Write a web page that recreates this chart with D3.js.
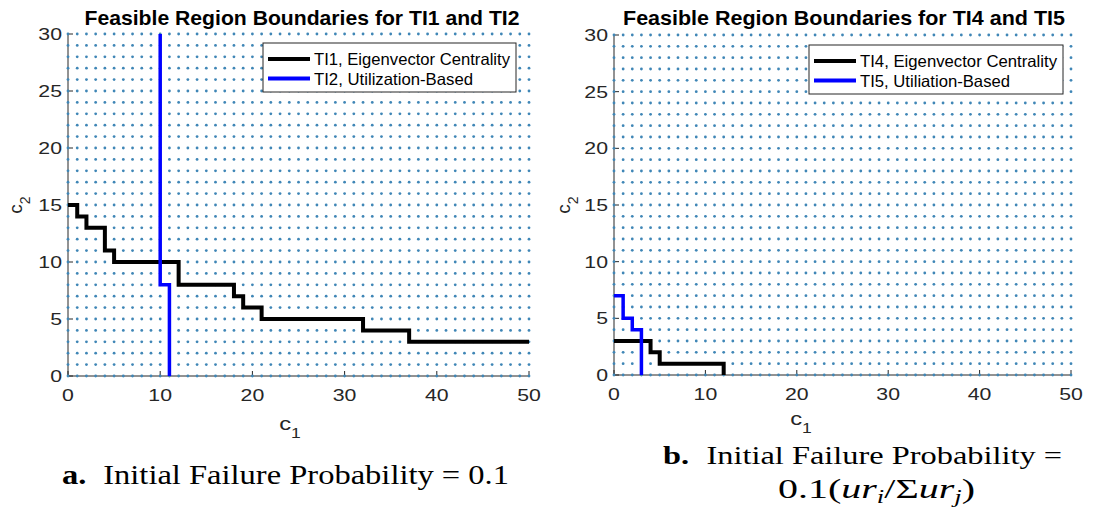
<!DOCTYPE html>
<html>
<head>
<meta charset="utf-8">
<script src="https://cdn.jsdelivr.net/npm/d3@7"></script>
<style>
  html, body { margin: 0; padding: 0; background: #fff; }
  svg { display: block; }
</style>
</head>
<body>
<svg id="chart" width="1096" height="516"></svg>
<script>
// ---------- data ----------
const gridC1 = d3.range(0, 51);          // feasible integer grid, c1
const gridC2 = d3.range(0, 31);          // feasible integer grid, c2
const xTicks = [0, 10, 20, 30, 40, 50];
const yTicks = [0, 5, 10, 15, 20, 25, 30];

// Panel a: boundary vertices (data units)
const ti1C1 = [0, 1, 1, 2, 2, 4, 4, 5, 5, 12, 12, 18, 18, 19, 19, 21, 21, 32, 32, 37, 37, 50];
const ti1C2 = [15, 15, 14, 14, 13, 13, 11, 11, 10, 10, 8, 8, 7, 7, 6, 6, 5, 5, 4, 4, 3, 3];
const ti2C1 = [10, 10, 11, 11];
const ti2C2 = [30, 8, 8, 0];

// Panel b
const ti4C1 = [0, 4, 4, 5, 5, 12, 12];
const ti4C2 = [3, 3, 2, 2, 1, 1, 0];
const ti5C1 = [0, 1, 1, 2, 2, 3, 3];
const ti5C2 = [7, 7, 5, 5, 4, 4, 0];

const titles = ["Feasible Region Boundaries for TI1 and TI2", "Feasible Region Boundaries for TI4 and TI5"];
const legendA = ["TI1, Eigenvector Centrality", "TI2, Utilization-Based"];
const legendB = ["TI4, Eigenvector Centrality", "TI5, Utiliation-Based"];

// ---------- drawing ----------
const svg = d3.select("#chart");
const SANS = "'Liberation Sans', Arial, sans-serif";
const SERIF = "'Liberation Serif', 'Times New Roman', serif";
const STRETCH = 1.25;

function stretch(sel, target) {
  sel.each(function () {
    const w = target || this.getComputedTextLength() * STRETCH;
    d3.select(this).attr("textLength", w).attr("lengthAdjust", "spacingAndGlyphs");
  });
}

function panel(cfg) {
  const x = d3.scaleLinear().domain([0, 50]).range([cfg.x0, cfg.x1]);
  const y = d3.scaleLinear().domain([0, 30]).range([cfg.y0, cfg.y1]);
  const g = svg.append("g");

  // axes lines
  g.append("line").attr("x1", x(0)).attr("x2", x(50)).attr("y1", y(0)).attr("y2", y(0))
    .attr("stroke", "#262626").attr("stroke-width", 1);
  g.append("line").attr("x1", x(0)).attr("x2", x(0)).attr("y1", y(0)).attr("y2", y(30))
    .attr("stroke", "#262626").attr("stroke-width", 1);
  // ticks (inside)
  g.selectAll(".xt").data(xTicks).join("line")
    .attr("x1", d => x(d)).attr("x2", d => x(d)).attr("y1", y(0)).attr("y2", y(0) - 5)
    .attr("stroke", "#262626");
  g.selectAll(".yt").data(yTicks).join("line")
    .attr("x1", x(0)).attr("x2", x(0) + 5).attr("y1", d => y(d)).attr("y2", d => y(d))
    .attr("stroke", "#262626");

  // tick labels
  const xl = g.selectAll(".xl").data(xTicks).join("text")
    .attr("x", d => x(d)).attr("y", y(0) + 25)
    .attr("text-anchor", "middle").attr("font-family", SANS).attr("font-size", 17)
    .attr("fill", "#262626").text(d => d);
  stretch(xl);
  const yl = g.selectAll(".yl").data(yTicks).join("text")
    .attr("x", x(0) - 6).attr("y", d => y(d) + 6)
    .attr("text-anchor", "end").attr("font-family", SANS).attr("font-size", 17)
    .attr("fill", "#262626").text(d => d);
  stretch(yl);

  // dot grid
  const pts = [];
  gridC1.forEach(a => gridC2.forEach(b => pts.push([a, b])));
  g.append("g").selectAll("circle").data(pts).join("circle")
    .attr("cx", d => x(d[0])).attr("cy", d => y(d[1])).attr("r", 1.4)
    .attr("fill", "#3f86b6");

  // boundary lines
  const line = d3.line().x(d => x(d[0])).y(d => y(d[1]));
  g.append("path").datum(d3.zip(cfg.aC1, cfg.aC2)).attr("d", line)
    .attr("fill", "none").attr("stroke", "#000").attr("stroke-width", 4);
  g.append("path").datum(d3.zip(cfg.bC1, cfg.bC2)).attr("d", line)
    .attr("fill", "none").attr("stroke", "#0000ff").attr("stroke-width", 3.5);

  // title
  const t = g.append("text").attr("x", cfg.titleX).attr("y", 25).attr("text-anchor", "middle")
    .attr("font-family", SANS).attr("font-weight", "bold").attr("font-size", 20.5)
    .attr("fill", "#000").text(cfg.title);
  stretch(t, cfg.titleW);

  // x label c1
  const xlab = g.append("text").attr("x", cfg.c1X).attr("y", cfg.c1Y).attr("text-anchor", "middle")
    .attr("font-family", SANS).attr("font-size", 19).attr("fill", "#262626");
  xlab.append("tspan").text("c");
  xlab.append("tspan").attr("font-size", 14).attr("dy", 8).text("1");
  stretch(xlab);

  // y label c2 (rotated)
  const ylab = g.append("text").attr("transform", `translate(${cfg.c2X},${(cfg.y0 + cfg.y1) / 2}) rotate(-90)`)
    .attr("text-anchor", "middle").attr("font-family", SANS).attr("font-size", 19).attr("fill", "#262626");
  ylab.append("tspan").text("c");
  ylab.append("tspan").attr("font-size", 14).attr("dy", 8).text("2");

  // legend
  const L = cfg.legend;
  g.append("rect").attr("x", L.x).attr("y", L.y).attr("width", L.w).attr("height", L.h)
    .attr("fill", "#fff").attr("stroke", "#262626").attr("stroke-width", 1);
  const cols = ["#000", "#0000ff"];
  cfg.legendText.forEach((s, i) => {
    const ly = L.y + 16 + i * 19.5;
    g.append("line").attr("x1", L.x + 5).attr("x2", L.x + 47).attr("y1", ly).attr("y2", ly)
      .attr("stroke", cols[i]).attr("stroke-width", 4);
    const tt = g.append("text").attr("x", L.x + 51).attr("y", ly + 6)
      .attr("font-family", SANS).attr("font-size", 16.5).attr("fill", "#000").text(s);
    stretch(tt, L.tw[i]);
  });
}

panel({
  x0: 68, x1: 529, y0: 376, y1: 34,
  aC1: ti1C1, aC2: ti1C2, bC1: ti2C1, bC2: ti2C2,
  title: titles[0], titleX: 302, titleW: 435,
  c1X: 290, c1Y: 430, c2X: 22,
  legend: { x: 263, y: 43, w: 253, h: 49, tw: [196, 159] },
  legendText: legendA
});
panel({
  x0: 614, x1: 1071, y0: 375, y1: 35,
  aC1: ti4C1, aC2: ti4C2, bC1: ti5C1, bC2: ti5C2,
  title: titles[1], titleX: 844, titleW: 442,
  c1X: 801, c1Y: 425, c2X: 570,
  legend: { x: 809, y: 45, w: 254, h: 49, tw: [197, 150] },
  legendText: legendB
});

// captions
const capA = svg.append("text").attr("x", 62).attr("y", 484)
  .attr("font-family", SERIF).attr("font-size", 27).attr("fill", "#000");
capA.append("tspan").attr("font-weight", "bold").text("a.");
capA.append("tspan").attr("dx", 14).text("Initial Failure Probability = 0.1");
stretch(capA, 447);

const capB1 = svg.append("text").attr("x", 663).attr("y", 464)
  .attr("font-family", SERIF).attr("font-size", 26).attr("fill", "#000");
capB1.append("tspan").attr("font-weight", "bold").text("b.");
capB1.append("tspan").attr("dx", 14).text("Initial Failure Probability =");
stretch(capB1, 399);

const capB2 = svg.append("text").attr("x", 778).attr("y", 498)
  .attr("font-family", SERIF).attr("font-size", 27).attr("fill", "#000");
capB2.append("tspan").text("0.1(");
capB2.append("tspan").attr("font-style", "italic").text("ur");
capB2.append("tspan").attr("font-style", "italic").attr("font-size", 18).attr("dy", 5).text("i");
capB2.append("tspan").attr("dy", -5).text("/Σ");
capB2.append("tspan").attr("font-style", "italic").text("ur");
capB2.append("tspan").attr("font-style", "italic").attr("font-size", 18).attr("dy", 5).text("j");
capB2.append("tspan").attr("dy", -5).text(")");
stretch(capB2, 197);
</script>
</body>
</html>
